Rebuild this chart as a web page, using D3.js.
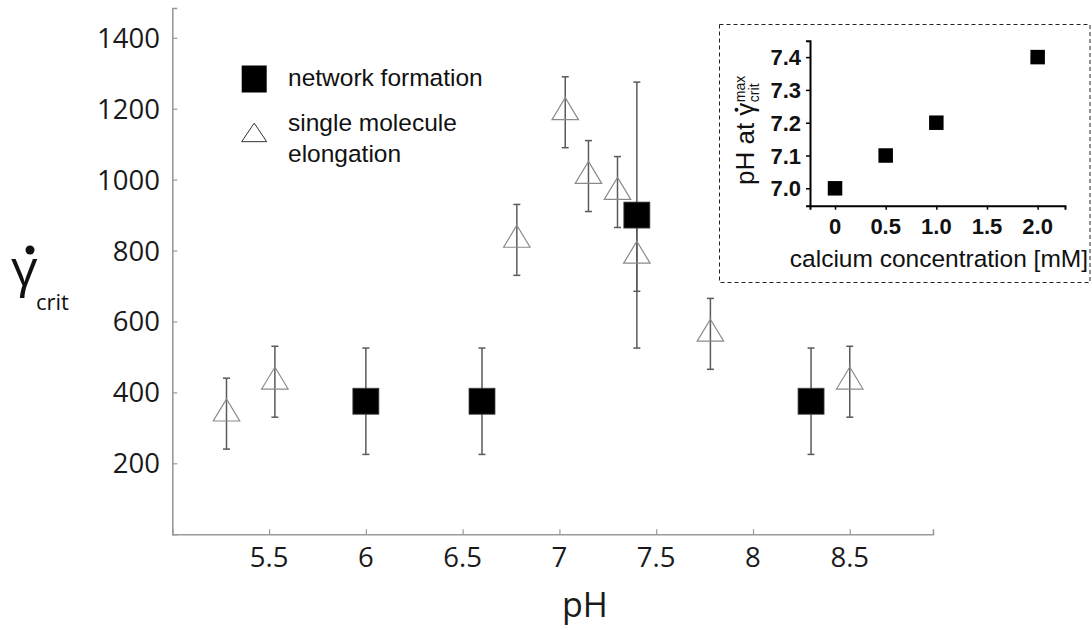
<!DOCTYPE html>
<html>
<head>
<meta charset="utf-8">
<script src="https://cdn.jsdelivr.net/npm/d3@7"></script>
<style>
  html, body { margin: 0; padding: 0; background: #fff; }
  svg { display: block; }
</style>
</head>
<body>
<svg id="chart" width="1092" height="630"></svg>
<script>
// Critical shear rate versus pH
const networkPH   = [6.0, 6.6, 7.4, 8.3];
const networkRate = [375, 375, 900, 375];
const networkErr  = [150, 150, 375, 150];

const singlePH   = [5.28, 5.53, 6.78, 7.03, 7.15, 7.30, 7.40, 7.78, 8.50];
const singleRate = [340, 430, 830, 1190, 1010, 965, 785, 565, 430];
const singleErr  = [100, 100, 100, 100, 100, 100, 100, 100, 100];

const xTickValues = [5.5, 6, 6.5, 7, 7.5, 8, 8.5];
const xTickLabels = ["5.5", "6", "6.5", "7", "7.5", "8", "8.5"];
const yTickValues = [200, 400, 600, 800, 1000, 1200, 1400];

const legendLabels = ["network formation", "single molecule", "elongation"];

// Inset: pH of maximal critical shear rate versus calcium
const calcium = [0, 0.5, 1.0, 2.0];
const phAtMax = [7.0, 7.1, 7.2, 7.4];
const insetXTicks = [0, 0.5, 1.0, 1.5, 2.0];
const insetXLabels = ["0", "0.5", "1.0", "1.5", "2.0"];
const insetYTicks = [7.0, 7.1, 7.2, 7.3, 7.4];
const insetYLabels = ["7.0", "7.1", "7.2", "7.3", "7.4"];

const svg = d3.select("#chart");
const mainFont = "'Open Sans', 'Noto Sans', sans-serif";
const arial = "'Liberation Sans', Arial, sans-serif";

// ---------- main panel ----------
const x = d3.scaleLinear().domain([5, 8.93]).range([172.3, 933]);
const y = d3.scaleLinear().domain([0, 1484]).range([534.2, 8]);
const axisColor = "#9a9a9a";

const gx = svg.append("g").attr("transform", `translate(0,${y(0)})`);
gx.call(d3.axisBottom(x).tickValues(d3.range(5.1, 8.91, 0.1).filter(v => Math.abs(v * 2 - Math.round(v * 2)) > 1e-6))
    .tickSize(-3).tickFormat(""))
  .call(g => g.select(".domain").remove());
gx.call(d3.axisBottom(x).tickValues(xTickValues).tickSize(-5).tickFormat(""))
  .call(g => g.selectAll(".domain").attr("stroke", axisColor).attr("stroke-width", 1.6));
gx.selectAll(".tick line").attr("stroke", axisColor).attr("stroke-width", 1.2);

const gy = svg.append("g").attr("transform", `translate(${x(5)},0)`);
gy.call(d3.axisLeft(y).tickValues(d3.range(50, 1451, 50).filter(v => v % 200 !== 0))
    .tickSize(-3).tickFormat(""))
  .call(g => g.select(".domain").remove());
gy.call(d3.axisLeft(y).tickValues(yTickValues).tickSize(-5).tickFormat(""))
  .call(g => g.selectAll(".domain").attr("stroke", axisColor).attr("stroke-width", 1.6));
gy.selectAll(".tick line").attr("stroke", axisColor).attr("stroke-width", 1.2);

// tick labels
svg.append("g").selectAll("text").data(xTickValues).join("text")
  .attr("x", d => x(d)).attr("y", 567)
  .attr("text-anchor", "middle")
  .attr("font-family", mainFont).attr("font-size", 27.5).attr("fill", "#1a1a1a")
  .text((d, i) => xTickLabels[i]);

svg.append("g").selectAll("text").data(yTickValues).join("text")
  .attr("x", 160).attr("y", d => y(d) + 10)
  .attr("text-anchor", "end")
  .attr("font-family", mainFont).attr("font-size", 27.5).attr("fill", "#1a1a1a")
  .text(d => d);

// axis titles
svg.append("text").attr("x", 585).attr("y", 617)
  .attr("text-anchor", "middle")
  .attr("font-family", mainFont).attr("font-size", 34).attr("fill", "#1a1a1a")
  .text("pH");

svg.append("text").attr("x", 11).attr("y", 286)
  .attr("font-family", mainFont).attr("font-size", 52).attr("fill", "#111")
  .text("γ");
svg.append("circle").attr("cx", 30).attr("cy", 250).attr("r", 4.5).attr("fill", "#111");
svg.append("text").attr("x", 36).attr("y", 310)
  .attr("font-family", mainFont).attr("font-size", 22).attr("fill", "#111")
  .text("crit");

// error bars
const capHalf = 3.5;
function errorBars(g, ph, val, err, color) {
  const rows = ph.map((p, i) => ({ p, v: val[i], e: err[i] }));
  const eb = g.selectAll("g").data(rows).join("g").attr("stroke", color).attr("stroke-width", 1.5);
  eb.append("line").attr("x1", d => x(d.p)).attr("x2", d => x(d.p))
    .attr("y1", d => y(d.v - d.e)).attr("y2", d => y(d.v + d.e));
  eb.append("line").attr("x1", d => x(d.p) - capHalf).attr("x2", d => x(d.p) + capHalf)
    .attr("y1", d => y(d.v + d.e)).attr("y2", d => y(d.v + d.e));
  eb.append("line").attr("x1", d => x(d.p) - capHalf).attr("x2", d => x(d.p) + capHalf)
    .attr("y1", d => y(d.v - d.e)).attr("y2", d => y(d.v - d.e));
}
errorBars(svg.append("g"), singlePH, singleRate, singleErr, "#5a5a5a");
errorBars(svg.append("g"), networkPH, networkRate, networkErr, "#5a5a5a");

function trianglePath(w, h) {
  return `M0,${-2 * h / 3}L${w / 2},${h / 3}L${-w / 2},${h / 3}Z`;
}

// triangles: single molecule elongation
svg.append("g").selectAll("path").data(singlePH.map((p, i) => ({ p, v: singleRate[i] }))).join("path")
  .attr("transform", d => `translate(${x(d.p)},${y(d.v)})`)
  .attr("d", trianglePath(26.5, 22))
  .attr("fill", "none").attr("stroke", "#8a8a8a").attr("stroke-width", 1.2);

// squares: network formation
const sq = 26;
svg.append("g").selectAll("rect").data(networkPH.map((p, i) => ({ p, v: networkRate[i] }))).join("rect")
  .attr("x", d => x(d.p) - sq / 2).attr("y", d => y(d.v) - sq / 2)
  .attr("width", sq).attr("height", sq)
  .attr("fill", "#000").attr("stroke", "#444").attr("stroke-width", 0.8);

// legend
const lg = svg.append("g");
lg.append("rect").attr("x", 241.7).attr("y", 65.5).attr("width", 25).attr("height", 27)
  .attr("fill", "#000");
lg.append("path").attr("transform", "translate(254.2,135.5)").attr("d", trianglePath(25, 18.5))
  .attr("fill", "none").attr("stroke", "#333").attr("stroke-width", 1);
lg.selectAll("text").data(legendLabels).join("text")
  .attr("x", 288).attr("y", (d, i) => [86, 131, 162][i])
  .attr("font-family", arial).attr("font-size", 24.5).attr("fill", "#111")
  .text(d => d);

// ---------- inset ----------
svg.append("rect").attr("x", 719.5).attr("y", 24.5).attr("width", 370.5).attr("height", 258)
  .attr("fill", "#fff").attr("stroke", "#222").attr("stroke-width", 1)
  .attr("stroke-dasharray", "4,3");

const ix = d3.scaleLinear().domain([-0.247, 2.27]).range([810, 1065]);
const iy = d3.scaleLinear().domain([6.947, 7.45]).range([205.7, 40.7]);

const igx = svg.append("g").attr("transform", `translate(0,${iy.range()[0]})`);
igx.call(d3.axisBottom(ix).tickValues([0.25, 0.75, 1.25, 1.75, 2.25]).tickSize(3).tickFormat(""))
  .call(g => g.select(".domain").remove());
igx.call(d3.axisBottom(ix).tickValues(insetXTicks).tickSize(4).tickFormat(""))
  .call(g => g.select(".domain").attr("stroke", "#000").attr("stroke-width", 2));
igx.selectAll(".tick line").attr("stroke", "#000").attr("stroke-width", 1.5);

const igy = svg.append("g").attr("transform", `translate(${ix.range()[0]},0)`);
igy.call(d3.axisLeft(iy).tickValues([6.95, 7.05, 7.15, 7.25, 7.35, 7.45]).tickSize(3).tickFormat(""))
  .call(g => g.select(".domain").remove());
igy.call(d3.axisLeft(iy).tickValues(insetYTicks).tickSize(4).tickFormat(""))
  .call(g => g.select(".domain").attr("stroke", "#000").attr("stroke-width", 2));
igy.selectAll(".tick line").attr("stroke", "#000").attr("stroke-width", 1.5);

svg.append("g").selectAll("text").data(insetXTicks).join("text")
  .attr("x", d => ix(d)).attr("y", 234)
  .attr("text-anchor", "middle")
  .attr("font-family", arial).attr("font-weight", "bold").attr("font-size", 22).attr("fill", "#111")
  .text((d, i) => insetXLabels[i]);

svg.append("g").selectAll("text").data(insetYTicks).join("text")
  .attr("x", 801).attr("y", d => iy(d) + 8)
  .attr("text-anchor", "end")
  .attr("font-family", arial).attr("font-weight", "bold").attr("font-size", 22).attr("fill", "#111")
  .text((d, i) => insetYLabels[i]);

svg.append("text").attr("x", 1088).attr("y", 267)
  .attr("text-anchor", "end")
  .attr("font-family", arial).attr("font-size", 24.5).attr("fill", "#111")
  .text("calcium concentration [mM]");

// rotated y title with γ, superscript and subscript
const yt = svg.append("g").attr("transform", "translate(754,185) rotate(-90)");
const base = yt.append("text").attr("x", 0).attr("y", 0)
  .attr("font-family", arial).attr("font-size", 26).attr("fill", "#111")
  .text("pH at γ");
const L = base.node().getComputedTextLength();
yt.append("circle").attr("cx", L - 7).attr("cy", -17.5).attr("r", 2).attr("fill", "#111");
yt.append("text").attr("x", L + 0.5).attr("y", -9)
  .attr("font-family", arial).attr("font-size", 14).attr("fill", "#111").text("max");
yt.append("text").attr("x", L + 0.5).attr("y", 5)
  .attr("font-family", arial).attr("font-size", 14).attr("fill", "#111").text("crit");

// inset points
const isq = 14.5;
svg.append("g").selectAll("rect").data(calcium.map((c, i) => ({ c, p: phAtMax[i] }))).join("rect")
  .attr("x", d => ix(d.c) - isq / 2).attr("y", d => iy(d.p) - isq / 2)
  .attr("width", isq).attr("height", isq).attr("fill", "#000");
</script>
</body>
</html>
